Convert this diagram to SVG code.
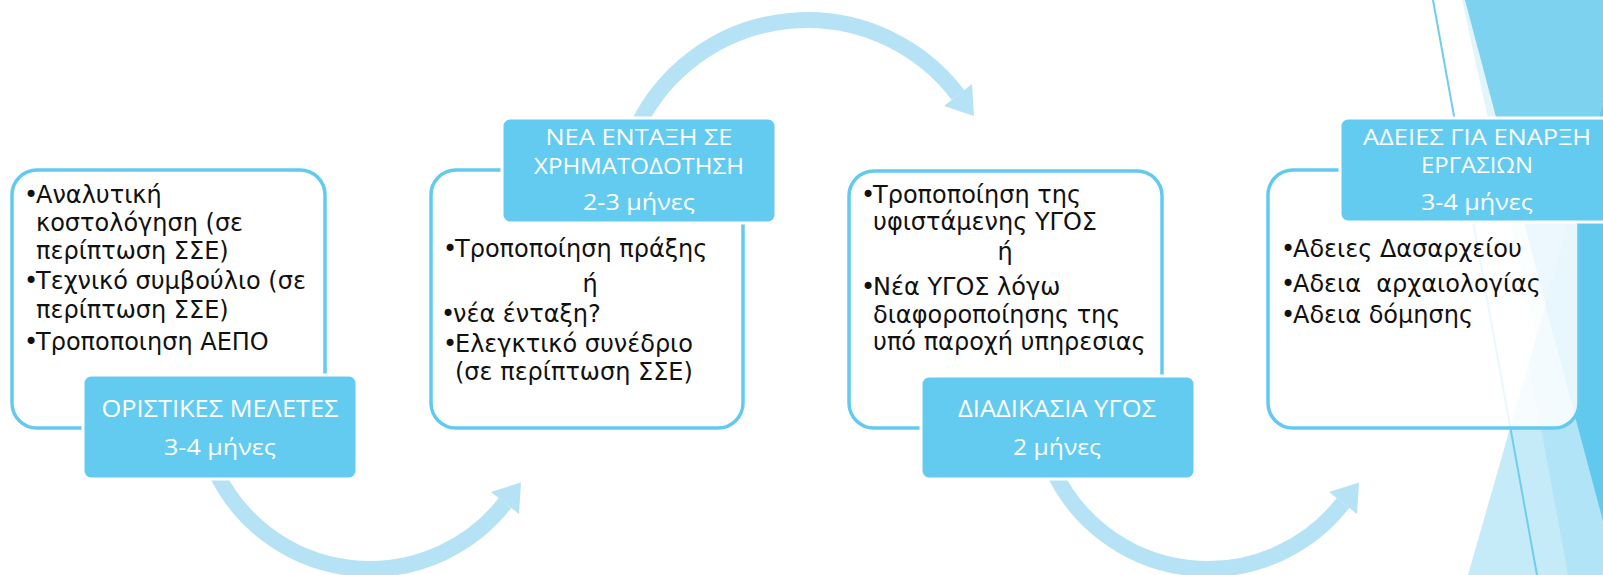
<svg xmlns="http://www.w3.org/2000/svg" width="1603" height="575" viewBox="0 0 1603 575">
<defs>
<style>
.bg{stroke:none}
.box{fill:#ffffff;stroke:#62caef;stroke-width:3.5}
.hdr{fill:#62cbef;stroke:#ffffff;stroke-width:3}
.bt{font-family:"DejaVu Sans","Liberation Sans",sans-serif;font-size:24px;fill:#111111}
.ht{font-family:"Open Sans","Noto Sans",sans-serif;fill:#ffffff;text-anchor:middle}
.h1{font-size:24px}
.h2{font-size:22px}
.arc{fill:none;stroke:#b5e2f4;stroke-width:16}
.head{fill:#b5e2f4}
</style>
</defs>
<rect width="1603" height="575" fill="#ffffff"/>
<g id="background">
<polygon class="bg" fill="#e3f5fc" points="1462,0 1554,420 1603,420 1603,0"/>
<polygon class="bg" fill="#7dd2ef" points="1465,0 1603,0 1603,521"/>
<polygon class="bg" fill="#c6ebf8" points="1468,575 1603,103 1603,575"/>
<polygon class="bg" fill="#b0e4f6" points="1529,363 1568,575 1603,575 1603,103"/>
<polygon class="bg" fill="#62c9ee" points="1545,304 1603,103 1603,521"/>
<line x1="1433" y1="0" x2="1537" y2="575" stroke="#6fcdee" stroke-width="2"/>
</g>
<g id="connectors">
<path class="arc" d="M 215 470 A 171 171 0 0 0 505 503"/>
<polygon class="head" points="521,482.5 491,492 519,514"/>
<path class="arc" d="M 638 125 A 189 189 0 0 1 958 95"/>
<polygon class="head" points="974,116 972,84 944,106"/>
<g transform="translate(838,0)">
<path class="arc" d="M 215 470 A 171 171 0 0 0 505 503"/>
<polygon class="head" points="521,482.5 491,492 519,514"/>
</g>
</g>
<g id="node1">
<rect class="box" x="12" y="170" width="313" height="258" rx="25"/>
<rect class="hdr" x="83" y="375" width="274" height="104" rx="8"/>
<text class="bt" x="24" y="203">•<tspan x="36">Αναλυτική</tspan></text>
<text class="bt" x="36" y="231">κοστολόγηση (σε</text>
<text class="bt" x="36" y="259">περίπτωση ΣΣΕ)</text>
<text class="bt" x="24" y="289">•<tspan x="36">Τεχνικό συμβούλιο (σε</tspan></text>
<text class="bt" x="36" y="318">περίπτωση ΣΣΕ)</text>
<text class="bt" x="24" y="350">•<tspan x="36">Τροποποιηση ΑΕΠΟ</tspan></text>
<text class="ht h1" x="220" y="417" textLength="237" lengthAdjust="spacingAndGlyphs">ΟΡΙΣΤΙΚΕΣ ΜΕΛΕΤΕΣ</text>
<text class="ht h2" x="220" y="455" textLength="112" lengthAdjust="spacingAndGlyphs">3-4 μήνες</text>
</g>
<g id="node2">
<rect class="box" x="431" y="170" width="312" height="258" rx="25"/>
<rect class="hdr" x="502" y="118" width="274" height="105" rx="8"/>
<text class="ht h2" x="639" y="145" textLength="187" lengthAdjust="spacingAndGlyphs">ΝΕΑ ΕΝΤΑΞΗ ΣΕ</text>
<text class="ht h2" x="639" y="174" textLength="210" lengthAdjust="spacingAndGlyphs">ΧΡΗΜΑΤΟΔΟΤΗΣΗ</text>
<text class="ht h2" x="639" y="210" textLength="112" lengthAdjust="spacingAndGlyphs">2-3 μήνες</text>
<text class="bt" x="443" y="257">•<tspan x="455">Τροποποίηση πράξης</tspan></text>
<text class="bt" x="590" y="292" text-anchor="middle">ή</text>
<text class="bt" x="441" y="322">•<tspan x="453">νέα ένταξη?</tspan></text>
<text class="bt" x="443" y="352">•<tspan x="455">Ελεγκτικό συνέδριο</tspan></text>
<text class="bt" x="455" y="380">(σε περίπτωση ΣΣΕ)</text>
</g>
<g id="node3">
<rect class="box" x="849" y="171" width="313" height="257" rx="25"/>
<rect class="hdr" x="921" y="376" width="274" height="103" rx="8"/>
<text class="bt" x="861" y="203">•<tspan x="873">Τροποποίηση της</tspan></text>
<text class="bt" x="873" y="230">υφιστάμενης ΥΓΟΣ</text>
<text class="bt" x="1005" y="260" text-anchor="middle">ή</text>
<text class="bt" x="861" y="295">•<tspan x="873">Νέα ΥΓΟΣ λόγω</tspan></text>
<text class="bt" x="873" y="323">διαφοροποίησης της</text>
<text class="bt" x="873" y="350">υπό παροχή υπηρεσιας</text>
<text class="ht h1" x="1057" y="417" textLength="198" lengthAdjust="spacingAndGlyphs">ΔΙΑΔΙΚΑΣΙΑ ΥΓΟΣ</text>
<text class="ht h2" x="1057" y="455" textLength="88" lengthAdjust="spacingAndGlyphs">2 μήνες</text>
</g>
<g id="node4">
<rect class="box" x="1268" y="170" width="311" height="258" rx="25" style="fill-opacity:0.85"/>
<rect class="hdr" x="1340" y="118" width="280" height="104" rx="8"/>
<text class="ht h2" x="1477" y="145" textLength="228" lengthAdjust="spacingAndGlyphs">ΑΔΕΙΕΣ ΓΙΑ ΕΝΑΡΞΗ</text>
<text class="ht h2" x="1477" y="173" textLength="112" lengthAdjust="spacingAndGlyphs">ΕΡΓΑΣΙΩΝ</text>
<text class="ht h2" x="1477" y="210" textLength="112" lengthAdjust="spacingAndGlyphs">3-4 μήνες</text>
<text class="bt" x="1281" y="257">•<tspan x="1293">Αδειες Δασαρχείου</tspan></text>
<text class="bt" x="1281" y="292" xml:space="preserve">•<tspan x="1293">Αδεια  αρχαιολογίας</tspan></text>
<text class="bt" x="1281" y="323">•<tspan x="1293">Αδεια δόμησης</tspan></text>
</g>
</svg>
